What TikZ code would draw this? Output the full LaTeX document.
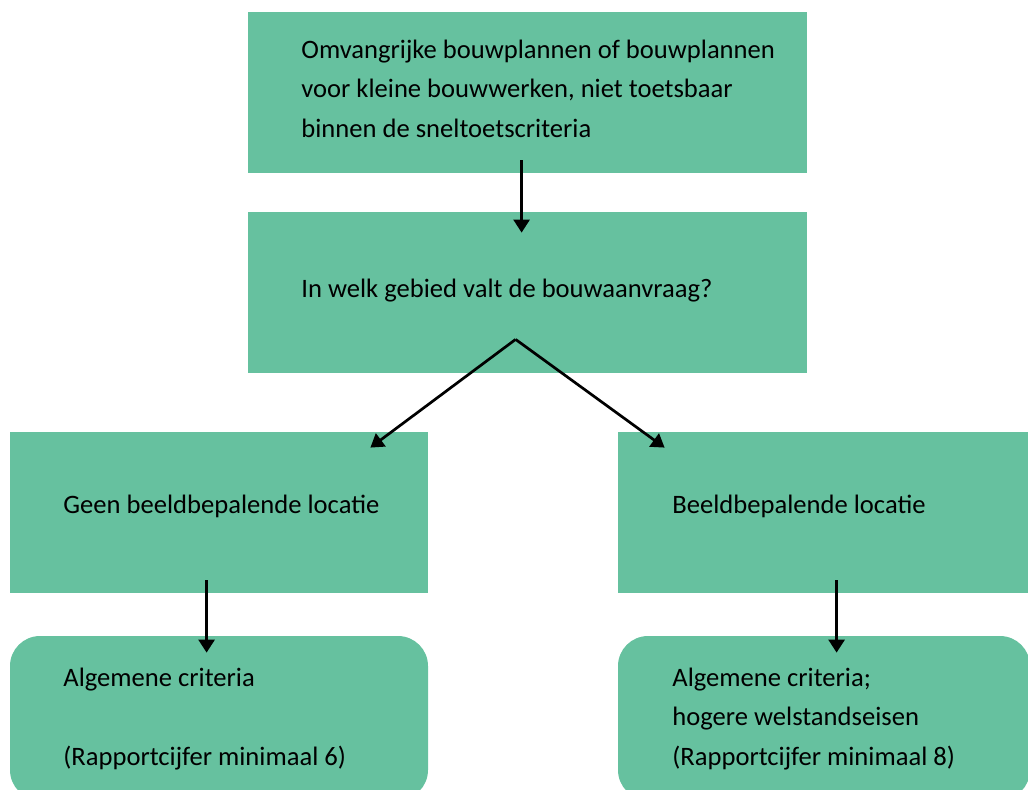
\documentclass[tikz,border=0pt]{standalone}
\usepackage{fontspec}
\setmainfont{Carlito}
\usetikzlibrary{calc,arrows.meta}
\definecolor{boxgreen}{RGB}{102,193,159}
\tikzset{
    box/.style={fill=boxgreen,draw=none,inner sep=0pt},
    txt/.style={anchor=base west,inner sep=0pt,align=left,font=\fontsize{13.3}{19.75}\selectfont},
    arr/.style={line width=1.35pt,-{Triangle[width=8pt,length=6.5pt]}}
}

\begin{document}
\begin{tikzpicture}[x=0.5pt,y=0.5pt]
                \useasboundingbox (0,0) rectangle (1028,-789);
                \node[box,minimum width=279.5pt,minimum height=80.5pt] (plan) at (527.5,-92.5) {};
                \node[box,minimum width=279.5pt,minimum height=80.5pt] (gebied) at (527.5,-292.5) {};
                \node[box,minimum width=209pt,minimum height=80.5pt] (geen) at (219,-512.5) {};
                \node[box,minimum width=206pt,minimum height=80.5pt] (beeld) at (824,-512.5) {};
                \node[box,rounded corners=15pt,minimum width=209pt,minimum height=82pt] (alg) at (219,-718) {};
                \node[box,rounded corners=15pt,minimum width=206pt,minimum height=82pt] (hoog) at (824,-718) {};

                \node[txt] (plantxt) at (301,-137) {Omvangrijke bouwplannen of bouwplannen\\voor kleine bouwwerken, niet toetsbaar\\binnen de sneltoetscriteria};
                \node[txt] (gebiedtxt) at (301,-297) {In welk gebied valt de bouwaanvraag?};
                \node[txt] (geentxt) at (63,-513) {Geen beeldbepalende locatie};
                \node[txt] (beeldtxt) at (672,-513) {Beeldbepalende locatie};
                \node[txt] (algtxt) at (63,-765) {Algemene criteria\\[19.75pt](Rapportcijfer minimaal 6)};
                \node[txt] (hoogtxt) at (672,-765) {Algemene criteria;\\hogere welstandseisen\\(Rapportcijfer minimaal 8)};

                \draw[arr] ($(plan.south west)+(274,13)$) -- ($(gebied.north west)+(274,-21)$);
                \draw[arr] ($(gebied.south west)+(268,34)$) -- ($(geen.north east)+(-58,-16)$);
                \draw[arr] ($(gebied.south west)+(268,34)$) -- ($(beeld.north west)+(47,-16)$);
                \draw[arr] ($(geen.south west)+(197,13)$) -- ($(alg.north west)+(197,-17)$);
                \draw[arr] ($(beeld.south west)+(219,13)$) -- ($(hoog.north west)+(219,-17)$);
            \end{tikzpicture}
\end{document}
